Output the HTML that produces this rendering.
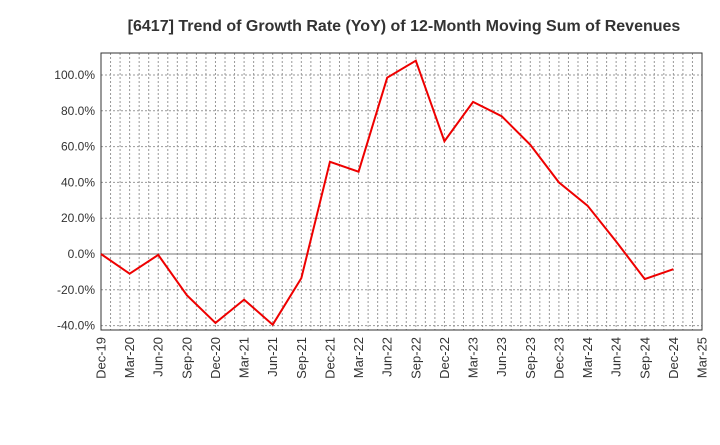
<!DOCTYPE html>
<html><head><meta charset="utf-8"><style>body{margin:0;background:#fff}svg{font-family:"Liberation Sans",sans-serif}</style></head>
<body>
<svg id="chart" width="720" height="440" xmlns="http://www.w3.org/2000/svg">
<text x="404" y="31" text-anchor="middle" font-size="16" font-weight="bold" fill="#333">[6417]  Trend of Growth Rate (YoY) of 12-Month Moving Sum of Revenues</text>
<g id="grid"></g><g id="axes"></g><g id="series"></g>
</svg>
<script>
const xLabels=["Dec-19","Mar-20","Jun-20","Sep-20","Dec-20","Mar-21","Jun-21","Sep-21","Dec-21","Mar-22","Jun-22","Sep-22","Dec-22","Mar-23","Jun-23","Sep-23","Dec-23","Mar-24","Jun-24","Sep-24","Dec-24","Mar-25"];
const values=[0,-11,-0.5,-23,-38.5,-25.5,-39.5,-13.5,51.5,46,98.5,108,63,85,77,61,40,27,7,-14,-8.5];
const yTicks=[-40,-20,0,20,40,60,80,100];
const L=101,R=702,T=53,B=330;
const xs=i=>L+i*(R-L)/21;
const ys=v=>254-v*1.79;
const NS="http://www.w3.org/2000/svg";
function mk(p,t,a){const e=document.createElementNS(NS,t);for(const k in a)e.setAttribute(k,a[k]);p.appendChild(e);return e;}
const g=document.getElementById('grid'),ax=document.getElementById('axes'),s=document.getElementById('series');
for(let m=1;m<63;m++){const x=L+m*(R-L)/63;const l=mk(g,'line',{x1:x,x2:x,y1:T,y2:B,stroke:'#999','stroke-dasharray':'2,2','stroke-width':1});

}
yTicks.forEach(v=>{const y=ys(v);const l=mk(g,'line',{x1:L,x2:R,y1:y,y2:y,stroke:v===0?'#777':'#999','stroke-dasharray':v===0?'none':'2,2','stroke-width':1});


const t=mk(ax,'text',{x:L-6,y:y+4,'text-anchor':'end','font-size':12,fill:'#333'});t.textContent=v.toFixed(1)+'%';

});
const fr=mk(ax,'rect',{x:L,y:T,width:R-L,height:B-T,fill:'none',stroke:'#333','stroke-width':1});


xLabels.forEach((lb,i)=>{const x=xs(i);const t=mk(ax,'text',{x:x+4.5,y:B+7,'text-anchor':'end','font-size':13,fill:'#333',transform:`rotate(-90 ${x+4.5} ${B+7})`});t.textContent=lb;

});
const p=mk(s,'polyline',{points:values.map((v,i)=>xs(i)+','+ys(v)).join(' '),fill:'none',stroke:'#e00','stroke-width':2});


</script>
</body></html>
